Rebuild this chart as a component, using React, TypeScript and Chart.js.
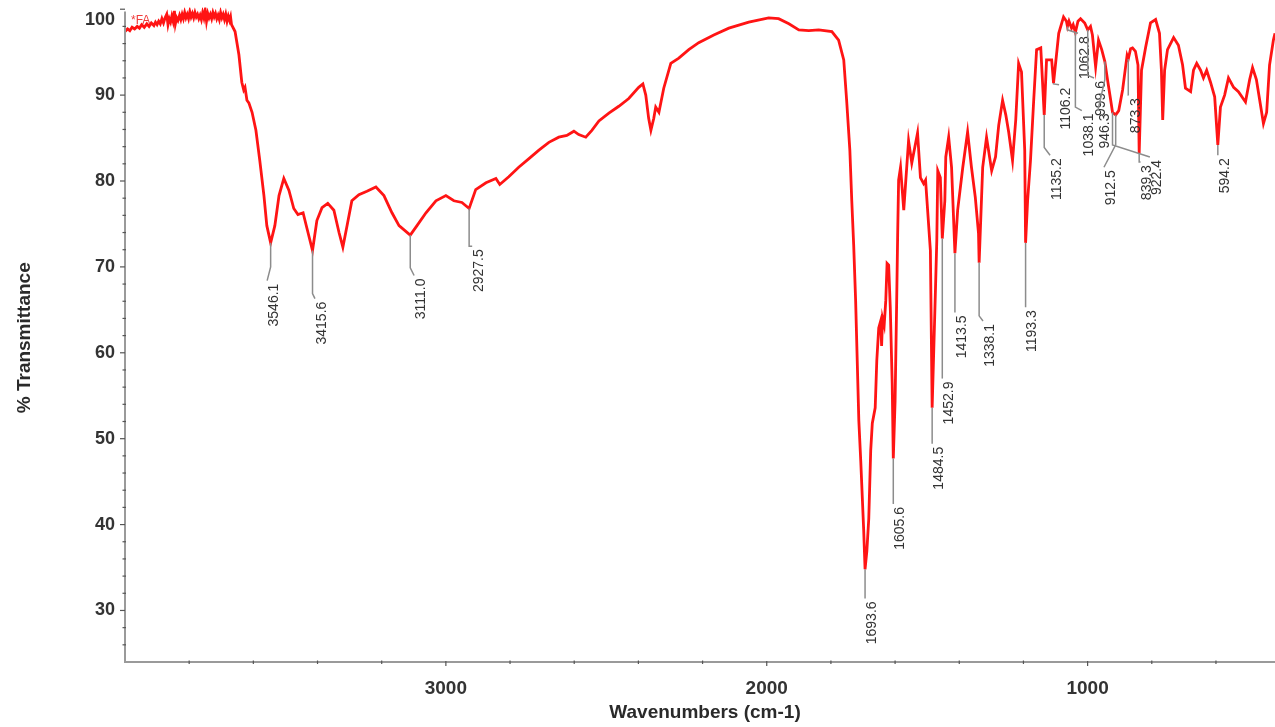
import React, { useEffect, useRef } from "react";
import { Chart, registerables } from "chart.js";

Chart.register(...registerables);

// FT-IR spectrum: wavenumber (cm-1) vs % transmittance
const wavenumbers = [
  4000, 3992, 3985, 3978, 3970, 3962, 3955, 3948, 3940, 3932, 3925, 3918, 3910, 3905,
  3900, 3895, 3890, 3885, 3880, 3875, 3870, 3866, 3862, 3858, 3854, 3850, 3846, 3843, 3839, 3835,
  3830, 3826, 3822, 3818, 3814, 3810, 3806, 3802, 3798, 3794, 3790, 3786, 3782, 3778, 3774, 3770,
  3766, 3762, 3758, 3754, 3750, 3746, 3742, 3738, 3734, 3730, 3726, 3722, 3718, 3714, 3710, 3706,
  3702, 3698, 3694, 3690, 3686, 3682, 3678, 3674, 3671, 3668,
  3657, 3645, 3636, 3630, 3626, 3620, 3614, 3604, 3592,
  3580, 3567, 3558, 3546.1, 3533, 3520, 3505, 3489, 3474, 3461, 3445, 3433, 3415.6, 3402, 3386, 3368,
  3349, 3333, 3321, 3308, 3293, 3271, 3246, 3218, 3193, 3168, 3146, 3111.0, 3090, 3062, 3031, 3000,
  2975, 2950, 2927.5, 2907, 2875, 2844, 2832, 2804, 2773, 2741, 2710, 2679, 2648, 2623, 2601, 2586,
  2564, 2545, 2523, 2492, 2461, 2430, 2399, 2386, 2377, 2368, 2361, 2352, 2346, 2336, 2321, 2299,
  2274, 2243, 2212, 2165, 2118, 2056, 1994, 1963, 1931, 1900, 1869, 1838, 1797, 1776, 1760, 1751,
  1741, 1735, 1729, 1723, 1713, 1707, 1698, 1693.6, 1688, 1682, 1676, 1671, 1662, 1657, 1651, 1645,
  1642, 1639, 1634, 1629, 1625, 1620, 1615, 1609, 1605.6, 1600, 1595, 1592, 1589, 1583, 1573, 1558,
  1548, 1530, 1521, 1511, 1505, 1490, 1484.5, 1474, 1470, 1467, 1459, 1452.9, 1445, 1442, 1433, 1424,
  1413.5, 1405, 1389, 1374, 1362, 1350, 1340, 1338.1, 1327, 1315, 1299, 1287, 1277, 1265, 1255, 1246,
  1234, 1224, 1215, 1206, 1196, 1193.3, 1187, 1178, 1168, 1159, 1146, 1135.2, 1128, 1112, 1106.2, 1090,
  1075, 1066, 1062.8, 1058, 1050, 1045, 1038.1, 1030, 1022, 1009, 999.6, 991, 985, 975, 966, 956,
  946.3, 938, 928, 922.4, 912.5, 903, 891, 882, 877, 873.3, 866, 860, 851, 843, 839.3, 832,
  819, 804, 788, 776, 770, 766, 760, 751, 732, 717, 704, 695, 679, 670, 660, 648,
  639, 629, 617, 604, 594.2, 586, 573, 561, 545, 530, 508, 495, 486, 474, 461, 452,
  442, 433, 421, 416,
];

const transmittance = [
  97.4, 97.7, 97.5, 97.9, 97.7, 98.0, 97.8, 98.2, 97.9, 98.3, 98.0, 98.4, 98.1, 98.5,
  98.2, 98.6, 98.3, 98.9, 98.4, 99.0, 99.4, 98.2, 98.9, 98.5, 99.2, 98.6, 99.8, 98.3, 99.0, 98.7,
  99.3, 98.8, 99.4, 98.9, 99.6, 99.0, 99.4, 98.9, 99.7, 99.1, 99.5, 99.0, 99.6, 99.1, 99.4, 98.9,
  99.3, 98.8, 99.6, 99.0, 99.9, 98.6, 99.5, 99.0, 99.4, 98.9, 99.6, 99.1, 99.5, 98.9, 99.3, 98.8,
  99.6, 99.0, 99.4, 98.8, 99.4, 98.6, 99.2, 98.7, 99.1, 98.2,
  97.4, 94.7, 91.5, 90.6, 90.9, 89.4, 89.1, 88.0, 85.9,
  82.4, 78.3, 74.8, 72.8, 74.8, 78.3, 80.3, 78.9, 76.8, 76.1, 76.3, 74.5, 71.9, 75.4, 76.9, 77.4,
  76.6, 74.0, 72.3, 74.8, 77.7, 78.4, 78.8, 79.3, 78.3, 76.3, 74.8, 73.7, 74.8, 76.3, 77.7, 78.3,
  77.7, 77.5, 76.8, 79.0, 79.8, 80.3, 79.6, 80.5, 81.6, 82.6, 83.6, 84.5, 85.1, 85.3, 85.8, 85.4,
  85.1, 85.9, 87.0, 87.9, 88.7, 89.6, 90.9, 91.3, 90.0, 87.3, 85.9, 87.3, 88.6, 88.0, 90.8, 93.7,
  94.3, 95.3, 96.1, 97.0, 97.8, 98.5, 99.0, 98.9, 98.3, 97.6, 97.5, 97.6, 97.4, 96.4, 94.1, 89.4,
  83.6, 77.7, 72.5, 66.1, 52.1, 47.4, 39.5, 34.8, 36.9, 40.7, 48.6, 51.8, 53.6, 59.1, 62.9, 63.7,
  60.8, 64.0, 63.2, 66.1, 70.4, 70.2, 65.3, 56.4, 47.7, 54.4, 66.1, 73.7, 80.1, 81.6, 76.6, 84.7,
  82.1, 85.6, 80.4, 79.7, 80.1, 71.9, 53.6, 67.6, 73.1, 81.2, 80.4, 73.3, 77.7, 82.8, 85.1, 81.6,
  71.6, 76.6, 81.6, 85.7, 81.6, 78.1, 73.9, 70.5, 81.6, 85.1, 81.2, 82.8, 86.5, 89.4, 87.7, 85.7,
  82.4, 87.1, 93.7, 92.7, 83.6, 72.8, 77.7, 82.4, 89.4, 95.3, 95.5, 87.7, 94.1, 94.1, 91.4, 97.2,
  99.1, 98.6, 98.0, 98.6, 97.8, 98.2, 97.3, 98.6, 98.9, 98.4, 97.6, 98.0, 97.0, 93.3, 96.4, 95.3,
  93.9, 91.8, 89.4, 88.0, 87.7, 88.2, 90.6, 93.2, 94.6, 94.2, 95.4, 95.5, 95.1, 93.5, 83.2, 92.9,
  95.6, 98.4, 98.8, 97.2, 92.9, 87.1, 92.9, 95.3, 96.7, 95.8, 93.5, 90.8, 90.4, 92.9, 93.7, 92.9,
  92.0, 92.9, 91.5, 89.8, 84.2, 88.6, 90.0, 92.0, 90.9, 90.4, 89.2, 91.8, 93.2, 91.8, 88.8, 86.7,
  88.0, 93.5, 96.4, 97.2,
];

// Axis ranges and ticks
const wavenumberRange = [416, 4000];
const transmittanceRange = [24, 100.2];
const yTickLabels = [30, 40, 50, 60, 70, 80, 90, 100];
const yMinorTicks = [26, 28, 32, 34, 36, 38, 42, 44, 46, 48, 52, 54, 56, 58, 62, 64, 66, 68, 72, 74, 76, 78, 82, 84, 86, 88, 92, 94, 96, 98];
const xTickLabels = [3000, 2000, 1000];
const xMinorTicks = [3800, 3600, 3400, 3200, 2800, 2600, 2400, 2200, 1800, 1600, 1400, 1200, 800, 600];

// Peak picks: wavenumber, where the leader bends, and where its label starts
const peakWavenumbers = [3546.1, 3415.6, 3111.0, 2927.5, 1693.6, 1605.6, 1484.5, 1452.9, 1413.5, 1338.1, 1193.3, 1135.2, 1106.2, 1062.8, 1038.1, 999.6, 946.3, 922.4, 912.5, 873.3, 839.3, 594.2];
const leaderKneeT = [70.0, 66.9, 69.9, 72.4, 31.4, 42.4, 49.4, 57.0, 64.7, 64.3, 65.3, 83.9, 91.3, 97.6, 88.6, 92.3, 91.8, 84.2, 84.2, 90.0, 82.2, 83.0];
const labelWavenumbers = [3557, 3408, 3099, 2918, 1693.6, 1605.6, 1484.5, 1452.9, 1413.5, 1326, 1193.3, 1117, 1089, 1030, 1018, 980, 968, 806, 949, 872, 835, 594.2];
const labelT = [68.4, 66.3, 69.0, 72.4, 31.4, 42.4, 49.4, 57.0, 64.7, 63.7, 65.3, 83.0, 91.2, 97.2, 88.2, 92.0, 88.2, 82.8, 81.6, 90.0, 82.2, 83.0];

const sampleName = "*FA";
const xTitle = "Wavenumbers (cm-1)";
const yTitle = "% Transmittance";

const FONT = '"Liberation Sans", Arial, sans-serif';

function transmittanceAt(wn: number): number {
  let best = 0;
  for (let i = 1; i < wavenumbers.length; i++) {
    if (Math.abs(wavenumbers[i] - wn) < Math.abs(wavenumbers[best] - wn)) best = i;
  }
  return transmittance[best];
}

const spectrumFrame = {
  id: "spectrumFrame",
  afterDatasetsDraw(chart: any) {
    const { ctx, chartArea, scales } = chart;
    const xs = scales.x;
    const ys = scales.y;
    ctx.save();

    // axis lines
    ctx.strokeStyle = "#9a9a9a";
    ctx.lineWidth = 2;
    ctx.beginPath();
    ctx.moveTo(chartArea.left, chartArea.top + 4);
    ctx.lineTo(chartArea.left, chartArea.bottom);
    ctx.lineTo(chartArea.right, chartArea.bottom);
    ctx.stroke();

    // y ticks
    ctx.strokeStyle = "#555";
    ctx.lineWidth = 1.2;
    for (const v of yMinorTicks) {
      const y = ys.getPixelForValue(v);
      ctx.beginPath();
      ctx.moveTo(chartArea.left - 2.5, y);
      ctx.lineTo(chartArea.left + 1, y);
      ctx.stroke();
    }
    for (const v of yTickLabels) {
      const y = ys.getPixelForValue(v);
      ctx.beginPath();
      ctx.moveTo(chartArea.left - 5, y);
      ctx.lineTo(chartArea.left, y);
      ctx.stroke();
    }
    // x ticks
    for (const v of xMinorTicks) {
      const x = xs.getPixelForValue(v);
      ctx.beginPath();
      ctx.moveTo(x, chartArea.bottom - 1.5);
      ctx.lineTo(x, chartArea.bottom + 2);
      ctx.stroke();
    }
    for (const v of xTickLabels) {
      const x = xs.getPixelForValue(v);
      ctx.beginPath();
      ctx.moveTo(x, chartArea.bottom - 1);
      ctx.lineTo(x, chartArea.bottom + 4);
      ctx.stroke();
    }

    // tick labels
    ctx.fillStyle = "#333";
    ctx.font = `bold 18px ${FONT}`;
    ctx.textAlign = "right";
    ctx.textBaseline = "middle";
    for (const v of yTickLabels) {
      const y = Math.max(ys.getPixelForValue(v), chartArea.top + 13);
      ctx.fillText(String(v), chartArea.left - 10, y);
    }
    ctx.font = `bold 19px ${FONT}`;
    ctx.textAlign = "center";
    for (const v of xTickLabels) {
      ctx.fillText(String(v), xs.getPixelForValue(v), chartArea.bottom + 27);
    }

    // axis titles
    ctx.fillStyle = "#2a2a2a";
    ctx.font = `bold 19px ${FONT}`;
    ctx.fillText(xTitle, (chartArea.left + chartArea.right) / 2 + 5, chartArea.bottom + 51);
    ctx.save();
    ctx.translate(25, (chartArea.top + chartArea.bottom) / 2 + 3);
    ctx.rotate(-Math.PI / 2);
    ctx.fillText(yTitle, 0, 0);
    ctx.restore();

    // sample name
    ctx.fillStyle = "#f03c3c";
    ctx.font = `12px ${FONT}`;
    ctx.textAlign = "left";
    ctx.fillText(sampleName, chartArea.left + 6, chartArea.top + 13);

    // peak leaders and labels
    ctx.strokeStyle = "#8c8c8c";
    ctx.lineWidth = 1.5;
    ctx.fillStyle = "#333";
    ctx.font = `14px ${FONT}`;
    peakWavenumbers.forEach((wn, i) => {
      const px = xs.getPixelForValue(wn);
      const py = ys.getPixelForValue(transmittanceAt(wn));
      const ky = ys.getPixelForValue(leaderKneeT[i]);
      const ex = xs.getPixelForValue(labelWavenumbers[i]);
      const ey = ys.getPixelForValue(labelT[i]);
      ctx.beginPath();
      ctx.moveTo(px, py);
      ctx.lineTo(px, ky);
      ctx.lineTo(ex, ey);
      ctx.stroke();
      ctx.save();
      ctx.translate(ex, ey + 3);
      ctx.rotate(-Math.PI / 2);
      ctx.textAlign = "right";
      ctx.textBaseline = "top";
      ctx.fillText(wn.toFixed(1), 0, 0);
      ctx.restore();
    });

    ctx.restore();
  },
};

export default function App() {
  const canvasRef = useRef<HTMLCanvasElement | null>(null);

  useEffect(() => {
    const canvas = canvasRef.current;
    if (!canvas) return;
    const points = wavenumbers.map((wn, i) => ({ x: wn, y: transmittance[i] }));
    const chart = new Chart(canvas, {
      type: "line",
      data: {
        datasets: [
          {
            data: points,
            borderColor: "#ff1414",
            borderWidth: 2.8,
            pointRadius: 0,
            tension: 0,
            fill: false,
          },
        ],
      },
      options: {
        animation: false,
        responsive: false,
        maintainAspectRatio: false,
        events: [],
        layout: { padding: { left: 125, right: 0, top: 7.5, bottom: 65 } },
        scales: {
          x: { type: "linear", reverse: true, min: wavenumberRange[0], max: wavenumberRange[1], display: false },
          y: { type: "linear", min: transmittanceRange[0], max: transmittanceRange[1], display: false },
        },
        plugins: { legend: { display: false }, tooltip: { enabled: false } },
      },
      plugins: [spectrumFrame],
    });
    return () => chart.destroy();
  }, []);

  return (
    <div style={{ position: "fixed", left: 0, top: 0, width: 1275, height: 727, background: "#fff" }}>
      <canvas ref={canvasRef} width={1275} height={727} style={{ display: "block", width: 1275, height: 727 }} />
    </div>
  );
}
